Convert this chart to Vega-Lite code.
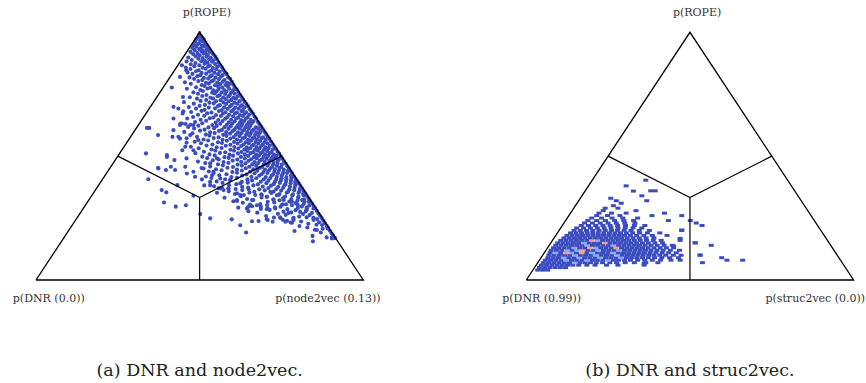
{
 "$schema": "https://vega.github.io/schema/vega-lite/v6.json",
 "padding": 0,
 "spacing": 0,
 "bounds": "flush",
 "background": "white",
 "config": {"view": {"stroke": null}},
 "resolve": {"scale": {"x": "independent", "y": "independent"}},
 "datasets": {
  "tri": [{"x":0,"y":0,"o":0},{"x":100,"y":0,"o":1},{"x":50,"y":100,"o":2},{"x":0,"y":0,"o":3}],
  "inner": [{"x":50,"y":33.33,"x2":50,"y2":0},{"x":50,"y":33.33,"x2":25,"y2":50},{"x":50,"y":33.33,"x2":75,"y2":50}],
  "labelsA": [{"x":3.9,"y":-7.7,"t":"p(DNR (0.0))"},{"x":52.2,"y":107.6,"t":"p(ROPE)"},{"x":89.2,"y":-7.7,"t":"p(node2vec (0.13))"}],
  "labelsB": [{"x":4.7,"y":-7.7,"t":"p(DNR (0.99))"},{"x":52.2,"y":107.6,"t":"p(ROPE)"},{"x":88.3,"y":-7.7,"t":"p(struc2vec (0.0))"}],
  "capA": [{"x":50,"y":-36.7,"t":"(a) DNR and node2vec."}],
  "capB": [{"x":50,"y":-36.7,"t":"(b) DNR and struc2vec."}],
  "apex": [{"x":50,"y":100}],
  "left": [
{"x":33.9,"y":61.4},{"x":34.6,"y":61.4},{"x":37.3,"y":58.5},{"x":33.6,"y":51.1},{"x":34.3,"y":40.7},{"x":38.4,"y":36.3},{"x":39.8,"y":35.4},{"x":39.1,"y":31.3},{"x":42.7,"y":29.6},{"x":45.8,"y":30.2},{"x":48.1,"y":34.0},{"x":50.2,"y":26.6},{"x":53.2,"y":24.9},{"x":59.8,"y":24.5},{"x":62.4,"y":22.1},{"x":64.2,"y":19.2},{"x":66.0,"y":23.7},{"x":70.5,"y":24.5},{"x":73.1,"y":28.9},{"x":74.6,"y":25.3},{"x":76.7,"y":23.9},{"x":78.7,"y":24.2},{"x":84.6,"y":15.6},{"x":85.8,"y":20.2},{"x":87.4,"y":22.2},{"x":89.1,"y":20.8},{"x":90.4,"y":17.2},{"x":91.3,"y":16.9},{"x":84.8,"y":24.9},{"x":82.6,"y":28.2},{"x":80.0,"y":30.2},{"x":77.7,"y":31.6},{"x":75.4,"y":30.5},{"x":72.6,"y":32.3},{"x":70.5,"y":28.6},{"x":64.9,"y":29.6},{"x":61.4,"y":31.9},{"x":58.8,"y":36.8},{"x":56.3,"y":37.0},{"x":53.2,"y":39.6},{"x":51.4,"y":38.2},{"x":43.2,"y":38.3},{"x":41.2,"y":45.7},{"x":37.3,"y":45.3},{"x":39.7,"y":44.4},{"x":44.9,"y":73.9},{"x":41.5,"y":77.7},{"x":42.0,"y":69.9},{"x":43.5,"y":69.2},{"x":42.0,"y":65.2},{"x":44.6,"y":63.2},{"x":41.7,"y":57.8},{"x":44.0,"y":57.1},{"x":45.6,"y":53.8},{"x":40.0,"y":49.7},{"x":44.6,"y":86.7},{"x":44.0,"y":82.0},{"x":45.9,"y":84.7},
{"x":45.0,"y":68.1},{"x":48.1,"y":62.6},{"x":44.0,"y":62.6},{"x":42.0,"y":60.5},{"x":45.7,"y":63.0},{"x":43.5,"y":57.8},{"x":47.1,"y":58.5},{"x":46.0,"y":55.4},{"x":49.6,"y":56.5},{"x":44.7,"y":52.4},{"x":48.1,"y":52.4},{"x":40.0,"y":50.4},{"x":42.3,"y":48.4},{"x":46.0,"y":49.1},{"x":37.4,"y":45.0},{"x":42.5,"y":44.4},{"x":45.6,"y":45.7},{"x":48.1,"y":43.7},{"x":51.2,"y":45.0},{"x":53.2,"y":47.1},{"x":55.3,"y":49.1},{"x":54.2,"y":43.7},
{"x":46.1,"y":43.0},{"x":48.6,"y":41.7},{"x":50.7,"y":40.6},{"x":53.2,"y":38.3},{"x":55.8,"y":37.0},{"x":57.3,"y":36.3},{"x":58.8,"y":37.0},{"x":61.4,"y":35.0},{"x":63.5,"y":34.3},{"x":65.0,"y":36.6},{"x":62.4,"y":39.0},{"x":59.4,"y":40.3},{"x":56.3,"y":41.0},{"x":53.8,"y":42.3},
{"x":70.8,"y":24.2},{"x":72.3,"y":23.5},{"x":74.6,"y":25.1},{"x":76.2,"y":23.5},{"x":78.2,"y":23.1},{"x":78.7,"y":25.1},{"x":77.1,"y":27.1},{"x":80.7,"y":27.5},{"x":82.7,"y":29.2},{"x":84.8,"y":25.1},{"x":89.1,"y":21.2},{"x":90.4,"y":16.8},{"x":75.2,"y":30.5},{"x":70.8,"y":28.9},{"x":68.7,"y":29.6},{"x":65.4,"y":30.5},{"x":64.4,"y":28.9},{"x":61.4,"y":32.3},{"x":62.4,"y":34.3},{"x":66.0,"y":32.3},{"x":67.5,"y":30.2},{"x":71.6,"y":35.6},{"x":70.5,"y":33.6},{"x":69.0,"y":34.3},{"x":74.1,"y":34.3},{"x":75.7,"y":32.3},{"x":78.2,"y":31.6},{"x":79.7,"y":30.9},{"x":81.3,"y":32.3},{"x":83.3,"y":31.6},{"x":84.8,"y":28.9},
{"x":49.8,"y":99},
{"x":49.5,"y":98},{"x":50.5,"y":98.4},{"x":50.9,"y":97.6},
{"x":49.0,"y":97.3},{"x":50.2,"y":96.8},{"x":51.3,"y":97.1},
{"x":48.6,"y":96.2},{"x":49.8,"y":95.6},{"x":51.0,"y":96.3},{"x":51.8,"y":95.8},
{"x":48.3,"y":94.8},{"x":49.5,"y":95.3},{"x":50.7,"y":94.6},{"x":51.6,"y":95.1},{"x":52.3,"y":94.7},
{"x":47.8,"y":93.7},{"x":49.0,"y":94.2},{"x":50.3,"y":93.5},{"x":51.4,"y":94.3},{"x":52.7,"y":93.8},
{"x":48.5,"y":92.8},{"x":49.9,"y":93.2},{"x":51.0,"y":92.6},{"x":52.2,"y":93.1},{"x":53.2,"y":92.7},
{"x":47.2,"y":92.1},{"x":49.3,"y":91.6},{"x":50.6,"y":92.3},{"x":51.8,"y":91.7},{"x":53.0,"y":92.2},{"x":53.7,"y":91.9},
{"x":48.0,"y":91.2},{"x":50.0,"y":90.7},{"x":51.2,"y":91.4},{"x":52.5,"y":90.8},{"x":54.2,"y":91.1},
{"x":46.5,"y":89.8},{"x":48.8,"y":90.3},{"x":50.9,"y":89.6},{"x":52.1,"y":90.2},{"x":53.4,"y":89.7},{"x":54.8,"y":90.1},
{"x":47.6,"y":88.8},{"x":49.6,"y":89.3},{"x":51.6,"y":88.6},{"x":52.9,"y":89.1},{"x":54.2,"y":88.7},{"x":55.2,"y":89.2},
{"x":46.0,"y":88.2},{"x":48.7,"y":87.6},{"x":50.5,"y":88.3},{"x":52.4,"y":87.7},{"x":53.8,"y":88.1},{"x":55.7,"y":87.8},
{"x":47.3,"y":87.1},{"x":49.9,"y":86.7},{"x":51.5,"y":87.3},{"x":53.1,"y":86.6},{"x":54.7,"y":87.2},{"x":56.2,"y":86.8},
{"x":45.8,"y":85.8},{"x":48.4,"y":86.3},{"x":50.9,"y":85.7},{"x":52.6,"y":86.2},{"x":54.0,"y":85.6},{"x":55.4,"y":86.1},{"x":56.8,"y":85.9},
{"x":47.2,"y":85.2},{"x":49.7,"y":84.7},{"x":51.8,"y":85.3},{"x":53.6,"y":84.6},{"x":55.1,"y":85.1},{"x":57.2,"y":84.8},
{"x":46.3,"y":83.8},{"x":48.9,"y":84.3},{"x":50.6,"y":83.6},{"x":52.9,"y":84.2},{"x":54.5,"y":83.7},{"x":56.1,"y":84.1},{"x":57.7,"y":83.8},
{"x":47.8,"y":83.2},{"x":50.2,"y":82.7},{"x":52.0,"y":83.3},{"x":53.7,"y":82.6},{"x":55.6,"y":83.1},{"x":57.0,"y":82.7},{"x":58.2,"y":83.2},
{"x":46.9,"y":81.8},{"x":49.3,"y":82.3},{"x":51.3,"y":81.6},{"x":53.2,"y":82.2},{"x":54.8,"y":81.7},{"x":56.5,"y":82.1},{"x":58.7,"y":81.8},
{"x":48.3,"y":81.2},{"x":50.8,"y":80.7},{"x":52.6,"y":81.3},{"x":54.2,"y":80.6},{"x":55.9,"y":81.1},{"x":57.6,"y":80.7},{"x":59.3,"y":81.2},
{"x":45.5,"y":79.8},{"x":49.6,"y":80.3},{"x":51.9,"y":79.6},{"x":53.6,"y":80.2},{"x":55.4,"y":79.7},{"x":57.1,"y":80.1},{"x":58.4,"y":79.6},{"x":59.8,"y":80.1},
{"x":47.3,"y":79.2},{"x":50.6,"y":78.7},{"x":52.8,"y":79.3},{"x":54.7,"y":78.6},{"x":56.3,"y":79.1},{"x":57.9,"y":78.7},{"x":59.2,"y":79.2},{"x":60.3,"y":78.8},
{"x":48.9,"y":77.8},{"x":51.5,"y":78.3},{"x":53.3,"y":77.6},{"x":55.6,"y":78.2},{"x":56.9,"y":77.7},{"x":58.6,"y":78.1},{"x":60.7,"y":77.8},
{"x":46.1,"y":77.2},{"x":50.2,"y":76.7},{"x":52.4,"y":77.3},{"x":54.2,"y":76.6},{"x":55.8,"y":77.1},{"x":57.5,"y":76.7},{"x":59.0,"y":77.2},{"x":60.2,"y":76.6},{"x":61.3,"y":77.0},
{"x":48.1,"y":75.8},{"x":51.0,"y":76.3},{"x":53.8,"y":75.6},{"x":55.2,"y":76.2},{"x":56.7,"y":75.7},{"x":58.2,"y":76.1},{"x":59.6,"y":75.6},{"x":61.8,"y":75.9},
{"x":49.5,"y":75.2},{"x":52.1,"y":74.7},{"x":54.6,"y":75.3},{"x":56.1,"y":74.6},{"x":57.8,"y":75.1},{"x":59.2,"y":74.7},{"x":60.7,"y":75.2},{"x":62.3,"y":74.8},
{"x":47.0,"y":73.8},{"x":50.8,"y":74.3},{"x":53.3,"y":73.6},{"x":55.5,"y":74.2},{"x":57.2,"y":73.7},{"x":58.8,"y":74.1},{"x":60.3,"y":73.6},{"x":61.6,"y":74.2},{"x":62.8,"y":73.9},
{"x":49.2,"y":73.2},{"x":52.0,"y":72.7},{"x":54.1,"y":73.3},{"x":56.4,"y":72.6},{"x":58.0,"y":73.1},{"x":59.7,"y":72.7},{"x":61.1,"y":73.2},{"x":63.3,"y":72.8},
{"x":45.2,"y":71.8},{"x":50.3,"y":72.3},{"x":53.0,"y":71.6},{"x":55.0,"y":72.2},{"x":57.3,"y":71.7},{"x":58.9,"y":72.1},{"x":60.6,"y":71.6},{"x":62.2,"y":72.2},{"x":63.8,"y":71.9},
{"x":48.2,"y":71.2},{"x":51.6,"y":70.7},{"x":54.3,"y":71.3},{"x":56.2,"y":70.6},{"x":58.1,"y":71.1},{"x":59.8,"y":70.7},{"x":61.5,"y":71.2},{"x":62.9,"y":70.6},{"x":64.3,"y":71.1},
{"x":46.7,"y":69.8},{"x":50.0,"y":70.3},{"x":52.8,"y":69.6},{"x":55.6,"y":70.2},{"x":57.5,"y":69.7},{"x":59.3,"y":70.1},{"x":60.9,"y":69.6},{"x":62.5,"y":70.2},{"x":63.7,"y":69.7},{"x":64.8,"y":70.1},
{"x":48.9,"y":69.2},{"x":51.5,"y":68.7},{"x":54.7,"y":69.3},{"x":56.8,"y":68.6},{"x":58.6,"y":69.1},{"x":60.3,"y":68.7},{"x":61.9,"y":69.2},{"x":63.2,"y":68.6},{"x":65.3,"y":68.9},
{"x":47.4,"y":67.8},{"x":50.6,"y":68.3},{"x":53.6,"y":67.6},{"x":55.9,"y":68.2},{"x":57.9,"y":67.7},{"x":59.7,"y":68.1},{"x":61.4,"y":67.6},{"x":62.8,"y":68.2},{"x":64.2,"y":67.7},{"x":65.8,"y":68.0},
{"x":44.8,"y":67.2},{"x":49.5,"y":66.7},{"x":52.3,"y":67.3},{"x":55.0,"y":66.6},{"x":57.1,"y":67.1},{"x":59.0,"y":66.7},{"x":60.8,"y":67.2},{"x":62.3,"y":66.6},{"x":63.7,"y":67.1},{"x":65.1,"y":66.7},{"x":66.3,"y":67.1},
{"x":48.0,"y":65.8},{"x":51.4,"y":66.3},{"x":54.2,"y":65.6},{"x":56.5,"y":66.2},{"x":58.4,"y":65.7},{"x":60.2,"y":66.1},{"x":61.8,"y":65.6},{"x":63.2,"y":66.2},{"x":64.6,"y":65.7},{"x":66.8,"y":66.0},
{"x":46.2,"y":65.2},{"x":50.3,"y":64.7},{"x":53.1,"y":65.3},{"x":55.7,"y":64.6},{"x":57.8,"y":65.1},{"x":59.6,"y":64.7},{"x":61.2,"y":65.2},{"x":62.7,"y":64.6},{"x":64.1,"y":65.1},{"x":65.6,"y":64.7},{"x":67.3,"y":65.1},
{"x":48.6,"y":63.8},{"x":52.0,"y":64.3},{"x":54.9,"y":63.6},{"x":57.0,"y":64.2},{"x":58.9,"y":63.7},{"x":60.7,"y":64.1},{"x":62.3,"y":63.6},{"x":63.6,"y":64.2},{"x":65.0,"y":63.7},{"x":66.4,"y":64.1},{"x":67.8,"y":63.8},
{"x":44.1,"y":63.2},{"x":47.2,"y":62.7},{"x":50.8,"y":63.3},{"x":53.9,"y":62.6},{"x":56.3,"y":63.1},{"x":58.3,"y":62.7},{"x":60.0,"y":63.2},{"x":61.7,"y":62.6},{"x":63.1,"y":63.1},{"x":64.5,"y":62.7},{"x":65.9,"y":63.2},{"x":68.3,"y":62.9},
{"x":46.5,"y":61.8},{"x":49.6,"y":62.3},{"x":52.7,"y":61.6},{"x":55.2,"y":62.2},{"x":57.6,"y":61.7},{"x":59.5,"y":62.1},{"x":61.2,"y":61.6},{"x":62.7,"y":62.2},{"x":64.0,"y":61.7},{"x":65.4,"y":62.1},{"x":67.2,"y":61.6},{"x":68.8,"y":61.9},
{"x":48.3,"y":61.2},{"x":51.5,"y":60.7},{"x":54.4,"y":61.3},{"x":56.8,"y":60.6},{"x":58.8,"y":61.1},{"x":60.6,"y":60.7},{"x":62.2,"y":61.2},{"x":63.6,"y":60.6},{"x":65.0,"y":61.1},{"x":66.5,"y":60.7},{"x":67.9,"y":61.2},{"x":69.3,"y":60.9},
{"x":45.3,"y":59.8},{"x":50.1,"y":60.3},{"x":53.2,"y":59.6},{"x":55.9,"y":60.2},{"x":58.1,"y":59.7},{"x":60.0,"y":60.1},{"x":61.7,"y":59.6},{"x":63.1,"y":60.2},{"x":64.6,"y":59.7},{"x":66.0,"y":60.1},{"x":67.4,"y":59.6},{"x":68.6,"y":60.2},{"x":69.8,"y":59.9},
{"x":47.8,"y":59.2},{"x":51.9,"y":58.7},{"x":54.6,"y":59.3},{"x":57.2,"y":58.6},{"x":59.3,"y":59.1},{"x":61.1,"y":58.7},{"x":62.7,"y":59.2},{"x":64.2,"y":58.6},{"x":65.6,"y":59.1},{"x":67.0,"y":58.7},{"x":68.3,"y":59.2},{"x":70.3,"y":58.9},
{"x":49.2,"y":57.8},{"x":53.0,"y":58.3},{"x":55.8,"y":57.6},{"x":58.2,"y":58.2},{"x":60.4,"y":57.7},{"x":62.2,"y":58.1},{"x":63.8,"y":57.6},{"x":65.3,"y":58.2},{"x":66.7,"y":57.7},{"x":68.0,"y":58.1},{"x":69.4,"y":57.6},{"x":70.8,"y":57.9},
{"x":46.0,"y":57.2},{"x":51.2,"y":56.7},{"x":54.3,"y":57.3},{"x":57.0,"y":56.6},{"x":59.4,"y":57.1},{"x":61.4,"y":56.7},{"x":63.2,"y":57.2},{"x":64.8,"y":56.6},{"x":66.2,"y":57.1},{"x":67.5,"y":56.7},{"x":68.9,"y":57.2},{"x":70.2,"y":56.6},{"x":71.3,"y":57.0},
{"x":48.5,"y":55.8},{"x":52.6,"y":56.3},{"x":55.6,"y":55.6},{"x":58.3,"y":56.2},{"x":60.5,"y":55.7},{"x":62.5,"y":56.1},{"x":64.1,"y":55.6},{"x":65.7,"y":56.2},{"x":67.1,"y":55.7},{"x":68.5,"y":56.1},{"x":69.8,"y":55.6},{"x":71.8,"y":55.9},
{"x":50.4,"y":55.2},{"x":53.9,"y":54.7},{"x":56.8,"y":55.3},{"x":59.4,"y":54.6},{"x":61.6,"y":55.1},{"x":63.4,"y":54.7},{"x":65.0,"y":55.2},{"x":66.5,"y":54.6},{"x":67.9,"y":55.1},{"x":69.3,"y":54.7},{"x":70.7,"y":55.2},{"x":72.3,"y":54.9},
{"x":47.3,"y":53.8},{"x":52.1,"y":54.3},{"x":55.2,"y":53.6},{"x":58.0,"y":54.2},{"x":60.6,"y":53.7},{"x":62.7,"y":54.1},{"x":64.4,"y":53.6},{"x":66.0,"y":54.2},{"x":67.4,"y":53.7},{"x":68.8,"y":54.1},{"x":70.1,"y":53.6},{"x":71.4,"y":54.2},{"x":72.8,"y":53.9},
{"x":49.7,"y":53.2},{"x":53.6,"y":52.7},{"x":56.7,"y":53.3},{"x":59.4,"y":52.6},{"x":61.8,"y":53.1},{"x":63.7,"y":52.7},{"x":65.4,"y":53.2},{"x":66.9,"y":52.6},{"x":68.3,"y":53.1},{"x":69.7,"y":52.7},{"x":71.0,"y":53.2},{"x":72.3,"y":52.6},{"x":73.3,"y":53.0},
{"x":51.3,"y":51.8},{"x":54.8,"y":52.3},{"x":57.8,"y":51.6},{"x":60.5,"y":52.2},{"x":62.8,"y":51.7},{"x":64.6,"y":52.1},{"x":66.3,"y":51.6},{"x":67.8,"y":52.2},{"x":69.2,"y":51.7},{"x":70.6,"y":52.1},{"x":71.9,"y":51.6},{"x":73.8,"y":51.9},
{"x":48.7,"y":51.2},{"x":53.0,"y":50.7},{"x":56.2,"y":51.3},{"x":59.1,"y":50.6},{"x":61.7,"y":51.1},{"x":63.8,"y":50.7},{"x":65.6,"y":51.2},{"x":67.2,"y":50.6},{"x":68.6,"y":51.1},{"x":70.0,"y":50.7},{"x":71.4,"y":51.2},{"x":72.7,"y":50.6},{"x":74.3,"y":51.0},
{"x":50.8,"y":49.8},{"x":54.6,"y":50.3},{"x":57.6,"y":49.6},{"x":60.2,"y":50.2},{"x":62.6,"y":49.7},{"x":64.8,"y":50.1},{"x":66.6,"y":49.6},{"x":68.1,"y":50.2},{"x":69.5,"y":49.7},{"x":70.9,"y":50.1},{"x":72.2,"y":49.6},{"x":73.5,"y":50.2},{"x":74.8,"y":49.9},
{"x":52.3,"y":49.2},{"x":55.8,"y":48.7},{"x":58.9,"y":49.3},{"x":61.5,"y":48.6},{"x":63.8,"y":49.1},{"x":65.7,"y":48.7},{"x":67.4,"y":49.2},{"x":69.0,"y":48.6},{"x":70.4,"y":49.1},{"x":71.8,"y":48.7},{"x":73.1,"y":49.2},{"x":74.2,"y":48.6},{"x":75.3,"y":49.0},
{"x":49.5,"y":47.8},{"x":54.0,"y":48.3},{"x":57.3,"y":47.6},{"x":60.1,"y":48.2},{"x":62.7,"y":47.7},{"x":64.9,"y":48.1},{"x":66.8,"y":47.6},{"x":68.4,"y":48.2},{"x":69.9,"y":47.7},{"x":71.3,"y":48.1},{"x":72.6,"y":47.6},{"x":73.9,"y":48.2},{"x":75.8,"y":47.9},
{"x":51.7,"y":47.2},{"x":55.6,"y":46.7},{"x":58.8,"y":47.3},{"x":61.6,"y":46.6},{"x":64.0,"y":47.1},{"x":66.1,"y":46.7},{"x":67.9,"y":47.2},{"x":69.6,"y":46.6},{"x":71.1,"y":47.1},{"x":72.5,"y":46.7},{"x":73.8,"y":47.2},{"x":75.1,"y":46.6},{"x":76.3,"y":47.0},
{"x":53.2,"y":45.8},{"x":57.1,"y":46.3},{"x":60.2,"y":45.6},{"x":62.9,"y":46.2},{"x":65.2,"y":45.7},{"x":67.3,"y":46.1},{"x":69.1,"y":45.6},{"x":70.7,"y":46.2},{"x":72.2,"y":45.7},{"x":73.6,"y":46.1},{"x":74.9,"y":45.6},{"x":76.8,"y":45.9},
{"x":50.6,"y":45.2},{"x":55.0,"y":44.7},{"x":58.5,"y":45.3},{"x":61.4,"y":44.6},{"x":64.1,"y":45.1},{"x":66.4,"y":44.7},{"x":68.3,"y":45.2},{"x":70.0,"y":44.6},{"x":71.6,"y":45.1},{"x":73.0,"y":44.7},{"x":74.4,"y":45.2},{"x":75.7,"y":44.6},{"x":77.3,"y":45.0},
{"x":52.8,"y":43.8},{"x":56.7,"y":44.3},{"x":60.0,"y":43.6},{"x":62.9,"y":44.2},{"x":65.4,"y":43.7},{"x":67.6,"y":44.1},{"x":69.5,"y":43.6},{"x":71.2,"y":44.2},{"x":72.8,"y":43.7},{"x":74.2,"y":44.1},{"x":75.6,"y":43.6},{"x":77.0,"y":44.2},{"x":77.8,"y":43.9},
{"x":54.3,"y":43.2},{"x":58.2,"y":42.7},{"x":61.4,"y":43.3},{"x":64.3,"y":42.6},{"x":66.8,"y":43.1},{"x":68.9,"y":42.7},{"x":70.7,"y":43.2},{"x":72.4,"y":42.6},{"x":73.9,"y":43.1},{"x":75.3,"y":42.7},{"x":76.7,"y":43.2},{"x":78.3,"y":42.9},
{"x":51.9,"y":41.8},{"x":56.0,"y":42.3},{"x":59.7,"y":41.6},{"x":63.0,"y":42.2},{"x":65.8,"y":41.7},{"x":68.2,"y":42.1},{"x":70.2,"y":41.6},{"x":72.0,"y":42.2},{"x":73.6,"y":41.7},{"x":75.1,"y":42.1},{"x":76.5,"y":41.6},{"x":77.9,"y":42.2},{"x":78.8,"y":41.9},
{"x":53.6,"y":41.2},{"x":57.8,"y":40.7},{"x":61.4,"y":41.3},{"x":64.6,"y":40.6},{"x":67.3,"y":41.1},{"x":69.6,"y":40.7},{"x":71.6,"y":41.2},{"x":73.4,"y":40.6},{"x":75.0,"y":41.1},{"x":76.5,"y":40.7},{"x":78.0,"y":41.2},{"x":79.3,"y":40.9},
{"x":55.2,"y":39.8},{"x":59.3,"y":40.3},{"x":62.9,"y":39.6},{"x":66.0,"y":40.2},{"x":68.7,"y":39.7},{"x":71.0,"y":40.1},{"x":73.0,"y":39.6},{"x":74.8,"y":40.2},{"x":76.4,"y":39.7},{"x":77.9,"y":40.1},{"x":79.2,"y":39.6},{"x":79.8,"y":39.9},
{"x":57.0,"y":39.2},{"x":61.2,"y":38.7},{"x":64.7,"y":39.3},{"x":67.8,"y":38.6},{"x":70.4,"y":39.1},{"x":72.6,"y":38.7},{"x":74.5,"y":39.2},{"x":76.2,"y":38.6},{"x":77.8,"y":39.1},{"x":79.3,"y":38.7},{"x":80.3,"y":39.0},
{"x":54.4,"y":37.8},{"x":59.0,"y":38.3},{"x":63.0,"y":37.6},{"x":66.4,"y":38.2},{"x":69.3,"y":37.7},{"x":71.8,"y":38.1},{"x":74.0,"y":37.6},{"x":75.9,"y":38.2},{"x":77.6,"y":37.7},{"x":79.2,"y":38.1},{"x":80.8,"y":37.9},
{"x":56.8,"y":37.2},{"x":61.0,"y":36.7},{"x":64.8,"y":37.3},{"x":68.2,"y":36.6},{"x":71.0,"y":37.1},{"x":73.4,"y":36.7},{"x":75.5,"y":37.2},{"x":77.4,"y":36.6},{"x":79.0,"y":37.1},{"x":80.6,"y":36.7},{"x":81.3,"y":37.0},
{"x":58.9,"y":35.8},{"x":63.0,"y":36.3},{"x":66.7,"y":35.6},{"x":69.9,"y":36.2},{"x":72.6,"y":35.7},{"x":74.9,"y":36.1},{"x":77.0,"y":35.6},{"x":78.9,"y":36.2},{"x":80.5,"y":35.7},{"x":81.8,"y":35.9},
{"x":55.3,"y":35.2},{"x":60.8,"y":34.7},{"x":65.2,"y":35.3},{"x":68.8,"y":34.6},{"x":71.9,"y":35.1},{"x":74.4,"y":34.7},{"x":76.6,"y":35.2},{"x":78.5,"y":34.6},{"x":80.2,"y":35.1},{"x":81.6,"y":34.7},{"x":82.3,"y":35.0},
{"x":62.6,"y":33.8},{"x":67.0,"y":34.3},{"x":70.6,"y":33.6},{"x":73.6,"y":34.2},{"x":76.1,"y":33.7},{"x":78.3,"y":34.1},{"x":80.2,"y":33.6},{"x":81.8,"y":34.2},{"x":82.8,"y":33.9},
{"x":57.6,"y":33.2},{"x":64.5,"y":32.7},{"x":68.9,"y":33.3},{"x":72.5,"y":32.6},{"x":75.5,"y":33.1},{"x":78.0,"y":32.7},{"x":80.1,"y":33.2},{"x":81.9,"y":32.6},{"x":83.3,"y":33.0},
{"x":60.3,"y":31.8},{"x":66.4,"y":32.3},{"x":70.8,"y":31.6},{"x":74.4,"y":32.2},{"x":77.4,"y":31.7},{"x":79.9,"y":32.1},{"x":82.0,"y":31.6},{"x":83.8,"y":31.9},
{"x":63.2,"y":31.2},{"x":68.5,"y":30.7},{"x":72.8,"y":31.3},{"x":76.4,"y":30.6},{"x":79.3,"y":31.1},{"x":81.8,"y":30.7},{"x":84.3,"y":31.0},
{"x":66.0,"y":29.8},{"x":70.6,"y":30.3},{"x":74.7,"y":29.6},{"x":78.2,"y":30.2},{"x":81.2,"y":29.7},{"x":83.5,"y":30.1},{"x":84.8,"y":29.9},
{"x":61.8,"y":29.2},{"x":68.7,"y":28.7},{"x":73.0,"y":29.3},{"x":76.8,"y":28.6},{"x":80.0,"y":29.1},{"x":82.8,"y":28.7},{"x":85.3,"y":29.0},
{"x":64.9,"y":27.8},{"x":71.4,"y":28.3},{"x":75.6,"y":27.6},{"x":79.3,"y":28.2},{"x":82.4,"y":27.7},{"x":85.8,"y":27.9},
{"x":67.6,"y":27.2},{"x":73.9,"y":26.7},{"x":78.0,"y":27.3},{"x":81.6,"y":26.6},{"x":84.3,"y":27.1},{"x":86.3,"y":26.8},
{"x":70.3,"y":25.8},{"x":76.3,"y":26.3},{"x":80.4,"y":25.6},{"x":83.6,"y":26.2},{"x":86.8,"y":25.9},
{"x":72.7,"y":25.2},{"x":78.6,"y":24.7},{"x":82.7,"y":25.3},{"x":85.9,"y":24.6},{"x":87.3,"y":25.0},
{"x":68.0,"y":23.8},{"x":75.4,"y":24.3},{"x":81.0,"y":23.6},{"x":84.8,"y":24.2},{"x":87.8,"y":23.9},
{"x":77.8,"y":23.2},{"x":83.2,"y":22.7},{"x":86.5,"y":23.3},{"x":88.3,"y":22.9},
{"x":80.5,"y":21.8},{"x":85.7,"y":22.3},{"x":88.8,"y":21.9},
{"x":82.9,"y":21.2},{"x":87.6,"y":20.7},{"x":89.3,"y":21.0},
{"x":79.0,"y":19.8},{"x":85.2,"y":20.3},{"x":89.8,"y":19.9},
{"x":87.0,"y":19.2},{"x":90.3,"y":18.9},
{"x":84.5,"y":17.8},{"x":90.8,"y":17.9},
{"x":88.8,"y":17.2},{"x":91.3,"y":16.9}
  ],
  "right": [
{"x":3.5,"y":4,"n":1},{"x":5.0,"y":4,"n":1},{"x":6.5,"y":4,"n":1},
{"x":4.0,"y":5,"n":1},{"x":5.6,"y":5,"n":1},{"x":7.2,"y":5,"n":1},{"x":8.8,"y":5,"n":1},{"x":10.4,"y":5,"n":1},{"x":12.0,"y":5,"n":1},
{"x":4.6,"y":6,"n":1},{"x":6.2,"y":6,"n":1},{"x":7.8,"y":6,"n":1},{"x":9.4,"y":6,"n":1},{"x":11.0,"y":6,"n":1},{"x":12.6,"y":6,"n":1},{"x":14.2,"y":6,"n":1},{"x":16.0,"y":6,"n":1},{"x":18.5,"y":6,"n":1},{"x":21.0,"y":6,"n":1},{"x":24.5,"y":6,"n":1},{"x":28.0,"y":6,"n":1},{"x":36.0,"y":6,"n":1},
{"x":5.2,"y":7,"n":1},{"x":6.8,"y":7,"n":1},{"x":8.4,"y":7,"n":1},{"x":10.0,"y":7,"n":1},{"x":11.6,"y":7,"n":1},{"x":13.2,"y":7,"n":1},{"x":14.8,"y":7,"n":2},{"x":16.4,"y":7,"n":1},{"x":18.0,"y":7,"n":1},{"x":19.6,"y":7,"n":1},{"x":21.4,"y":7,"n":1},{"x":23.3,"y":7,"n":1},{"x":25.5,"y":7,"n":1},{"x":27.6,"y":7,"n":1},{"x":30.2,"y":7,"n":1},{"x":33.0,"y":7,"n":1},{"x":36.5,"y":7,"n":1},{"x":40.2,"y":7,"n":1},{"x":53.8,"y":7,"n":1},
{"x":5.8,"y":8,"n":1},{"x":7.4,"y":8,"n":1},{"x":9.0,"y":8,"n":1},{"x":10.6,"y":8,"n":1},{"x":12.2,"y":8,"n":2},{"x":13.8,"y":8,"n":1},{"x":15.4,"y":8,"n":1},{"x":17.0,"y":8,"n":1},{"x":18.6,"y":8,"n":2},{"x":20.2,"y":8,"n":1},{"x":21.8,"y":8,"n":1},{"x":23.4,"y":8,"n":1},{"x":25.0,"y":8,"n":2},{"x":26.6,"y":8,"n":1},{"x":28.2,"y":8,"n":1},{"x":30.0,"y":8,"n":1},{"x":31.8,"y":8,"n":1},{"x":34.0,"y":8,"n":1},{"x":36.2,"y":8,"n":1},{"x":38.5,"y":8,"n":1},{"x":41.0,"y":8,"n":1},{"x":44.2,"y":8,"n":1},{"x":47.0,"y":8,"n":1},{"x":61.3,"y":8,"n":1},{"x":66.1,"y":8,"n":1},
{"x":6.6,"y":9,"n":1},{"x":8.2,"y":9,"n":1},{"x":9.8,"y":9,"n":1},{"x":11.4,"y":9,"n":2},{"x":13.0,"y":9,"n":1},{"x":14.6,"y":9,"n":1},{"x":16.2,"y":9,"n":2},{"x":17.8,"y":9,"n":1},{"x":19.4,"y":9,"n":1},{"x":21.0,"y":9,"n":1},{"x":22.6,"y":9,"n":2},{"x":24.2,"y":9,"n":1},{"x":25.8,"y":9,"n":1},{"x":27.4,"y":9,"n":1},{"x":29.0,"y":9,"n":2},{"x":30.6,"y":9,"n":1},{"x":32.2,"y":9,"n":1},{"x":33.8,"y":9,"n":1},{"x":35.5,"y":9,"n":1},{"x":37.3,"y":9,"n":1},{"x":39.2,"y":9,"n":1},{"x":41.4,"y":9,"n":1},{"x":43.8,"y":9,"n":1},{"x":46.5,"y":9,"n":1},{"x":59.7,"y":9,"n":1},
{"x":6.9,"y":10,"n":1},{"x":8.5,"y":10,"n":1},{"x":10.1,"y":10,"n":1},{"x":11.7,"y":10,"n":1},{"x":13.3,"y":10,"n":1},{"x":14.9,"y":10,"n":2},{"x":16.5,"y":10,"n":1},{"x":18.1,"y":10,"n":1},{"x":19.7,"y":10,"n":1},{"x":21.3,"y":10,"n":2},{"x":22.9,"y":10,"n":1},{"x":24.5,"y":10,"n":1},{"x":26.1,"y":10,"n":1},{"x":27.7,"y":10,"n":2},{"x":29.3,"y":10,"n":1},{"x":30.9,"y":10,"n":1},{"x":32.5,"y":10,"n":1},{"x":34.1,"y":10,"n":1},{"x":35.7,"y":10,"n":1},{"x":37.4,"y":10,"n":1},{"x":39.0,"y":10,"n":1},{"x":40.8,"y":10,"n":1},{"x":42.6,"y":10,"n":1},{"x":44.9,"y":10,"n":1},{"x":47.3,"y":10,"n":1},{"x":53.1,"y":10,"n":1},
{"x":7.3,"y":11,"n":1},{"x":8.9,"y":11,"n":2},{"x":10.5,"y":11,"n":1},{"x":12.1,"y":11,"n":3},{"x":13.7,"y":11,"n":2},{"x":15.3,"y":11,"n":1},{"x":16.9,"y":11,"n":3},{"x":18.5,"y":11,"n":1},{"x":20.1,"y":11,"n":2},{"x":21.7,"y":11,"n":1},{"x":23.3,"y":11,"n":1},{"x":24.9,"y":11,"n":1},{"x":26.5,"y":11,"n":2},{"x":28.1,"y":11,"n":1},{"x":29.7,"y":11,"n":1},{"x":31.3,"y":11,"n":1},{"x":32.9,"y":11,"n":1},{"x":34.5,"y":11,"n":1},{"x":36.1,"y":11,"n":1},{"x":37.8,"y":11,"n":1},{"x":39.6,"y":11,"n":1},{"x":41.5,"y":11,"n":1},{"x":43.5,"y":11,"n":1},{"x":45.8,"y":11,"n":1},
{"x":7.6,"y":12,"n":1},{"x":9.2,"y":12,"n":1},{"x":10.8,"y":12,"n":1},{"x":12.4,"y":12,"n":2},{"x":14.0,"y":12,"n":1},{"x":15.6,"y":12,"n":2},{"x":17.2,"y":12,"n":3},{"x":18.8,"y":12,"n":1},{"x":20.4,"y":12,"n":1},{"x":22.0,"y":12,"n":2},{"x":23.6,"y":12,"n":1},{"x":25.2,"y":12,"n":1},{"x":26.8,"y":12,"n":1},{"x":28.4,"y":12,"n":2},{"x":30.0,"y":12,"n":1},{"x":31.6,"y":12,"n":1},{"x":33.2,"y":12,"n":1},{"x":34.8,"y":12,"n":1},{"x":36.4,"y":12,"n":1},{"x":38.1,"y":12,"n":1},{"x":39.9,"y":12,"n":1},{"x":41.8,"y":12,"n":1},{"x":44.0,"y":12,"n":1},{"x":46.8,"y":12,"n":1},
{"x":8.3,"y":13,"n":1},{"x":9.9,"y":13,"n":1},{"x":11.5,"y":13,"n":1},{"x":13.1,"y":13,"n":1},{"x":14.7,"y":13,"n":2},{"x":16.3,"y":13,"n":1},{"x":17.9,"y":13,"n":1},{"x":19.5,"y":13,"n":3},{"x":21.1,"y":13,"n":2},{"x":22.7,"y":13,"n":1},{"x":24.3,"y":13,"n":1},{"x":25.9,"y":13,"n":1},{"x":27.5,"y":13,"n":3},{"x":29.1,"y":13,"n":1},{"x":30.7,"y":13,"n":1},{"x":32.3,"y":13,"n":1},{"x":33.9,"y":13,"n":1},{"x":35.5,"y":13,"n":1},{"x":37.2,"y":13,"n":1},{"x":39.0,"y":13,"n":1},{"x":40.9,"y":13,"n":1},{"x":42.8,"y":13,"n":1},{"x":45.0,"y":13,"n":1},
{"x":9.0,"y":14,"n":1},{"x":10.6,"y":14,"n":1},{"x":12.2,"y":14,"n":1},{"x":13.8,"y":14,"n":1},{"x":15.4,"y":14,"n":1},{"x":17.0,"y":14,"n":1},{"x":18.6,"y":14,"n":2},{"x":20.2,"y":14,"n":1},{"x":21.8,"y":14,"n":1},{"x":23.4,"y":14,"n":1},{"x":25.0,"y":14,"n":1},{"x":26.6,"y":14,"n":2},{"x":28.2,"y":14,"n":1},{"x":29.8,"y":14,"n":1},{"x":31.4,"y":14,"n":1},{"x":33.0,"y":14,"n":1},{"x":34.6,"y":14,"n":1},{"x":36.3,"y":14,"n":1},{"x":38.1,"y":14,"n":1},{"x":40.0,"y":14,"n":1},{"x":42.1,"y":14,"n":1},{"x":44.6,"y":14,"n":1},{"x":56.5,"y":14,"n":1},
{"x":9.6,"y":15,"n":1},{"x":11.2,"y":15,"n":1},{"x":12.8,"y":15,"n":1},{"x":14.4,"y":15,"n":1},{"x":16.0,"y":15,"n":1},{"x":17.6,"y":15,"n":2},{"x":19.2,"y":15,"n":1},{"x":20.8,"y":15,"n":1},{"x":22.4,"y":15,"n":1},{"x":24.0,"y":15,"n":3},{"x":25.6,"y":15,"n":1},{"x":27.2,"y":15,"n":1},{"x":28.8,"y":15,"n":1},{"x":30.4,"y":15,"n":1},{"x":32.0,"y":15,"n":1},{"x":33.7,"y":15,"n":1},{"x":35.5,"y":15,"n":1},{"x":37.3,"y":15,"n":1},{"x":39.3,"y":15,"n":1},{"x":41.6,"y":15,"n":1},{"x":51.6,"y":15,"n":1},
{"x":10.5,"y":16,"n":1},{"x":12.1,"y":16,"n":1},{"x":13.7,"y":16,"n":1},{"x":15.3,"y":16,"n":1},{"x":16.9,"y":16,"n":1},{"x":18.5,"y":16,"n":1},{"x":20.1,"y":16,"n":3},{"x":21.7,"y":16,"n":2},{"x":23.3,"y":16,"n":1},{"x":24.9,"y":16,"n":1},{"x":26.5,"y":16,"n":1},{"x":28.1,"y":16,"n":1},{"x":29.7,"y":16,"n":1},{"x":31.3,"y":16,"n":1},{"x":33.0,"y":16,"n":1},{"x":34.8,"y":16,"n":1},{"x":36.7,"y":16,"n":1},{"x":38.8,"y":16,"n":1},{"x":41.2,"y":16,"n":1},{"x":47.0,"y":16,"n":1},
{"x":11.5,"y":17,"n":1},{"x":13.1,"y":17,"n":1},{"x":14.7,"y":17,"n":1},{"x":16.3,"y":17,"n":1},{"x":17.9,"y":17,"n":1},{"x":19.5,"y":17,"n":1},{"x":21.1,"y":17,"n":1},{"x":22.7,"y":17,"n":1},{"x":24.3,"y":17,"n":1},{"x":25.9,"y":17,"n":1},{"x":27.5,"y":17,"n":1},{"x":29.1,"y":17,"n":1},{"x":30.8,"y":17,"n":1},{"x":32.6,"y":17,"n":1},{"x":34.5,"y":17,"n":1},{"x":36.6,"y":17,"n":1},{"x":39.0,"y":17,"n":1},
{"x":12.4,"y":18,"n":1},{"x":14.0,"y":18,"n":1},{"x":15.6,"y":18,"n":1},{"x":17.2,"y":18,"n":1},{"x":18.8,"y":18,"n":1},{"x":20.4,"y":18,"n":1},{"x":22.0,"y":18,"n":1},{"x":23.6,"y":18,"n":1},{"x":25.2,"y":18,"n":1},{"x":26.8,"y":18,"n":1},{"x":28.4,"y":18,"n":1},{"x":30.0,"y":18,"n":1},{"x":31.8,"y":18,"n":1},{"x":33.7,"y":18,"n":1},{"x":35.9,"y":18,"n":1},{"x":38.5,"y":18,"n":1},{"x":43.0,"y":18,"n":1},
{"x":13.5,"y":19,"n":1},{"x":15.2,"y":19,"n":1},{"x":16.9,"y":19,"n":1},{"x":18.6,"y":19,"n":1},{"x":20.3,"y":19,"n":1},{"x":22.0,"y":19,"n":1},{"x":23.7,"y":19,"n":1},{"x":25.4,"y":19,"n":1},{"x":27.1,"y":19,"n":1},{"x":28.8,"y":19,"n":1},{"x":30.6,"y":19,"n":1},{"x":32.5,"y":19,"n":1},{"x":34.6,"y":19,"n":1},{"x":37.0,"y":19,"n":1},{"x":40.8,"y":19,"n":1},
{"x":14.6,"y":20,"n":1},{"x":16.5,"y":20,"n":1},{"x":18.4,"y":20,"n":1},{"x":20.3,"y":20,"n":1},{"x":22.2,"y":20,"n":1},{"x":24.1,"y":20,"n":1},{"x":26.0,"y":20,"n":1},{"x":27.9,"y":20,"n":1},{"x":29.9,"y":20,"n":1},{"x":32.0,"y":20,"n":1},{"x":34.5,"y":20,"n":1},{"x":37.6,"y":20,"n":1},{"x":47.5,"y":20,"n":1},
{"x":15.4,"y":21,"n":1},{"x":17.5,"y":21,"n":1},{"x":19.6,"y":21,"n":1},{"x":21.7,"y":21,"n":1},{"x":23.8,"y":21,"n":1},{"x":25.9,"y":21,"n":1},{"x":28.0,"y":21,"n":1},{"x":30.2,"y":21,"n":1},{"x":32.6,"y":21,"n":1},{"x":35.3,"y":21,"n":1},
{"x":16.8,"y":22,"n":1},{"x":19.0,"y":22,"n":1},{"x":21.2,"y":22,"n":1},{"x":23.4,"y":22,"n":1},{"x":25.6,"y":22,"n":1},{"x":27.9,"y":22,"n":1},{"x":30.3,"y":22,"n":1},{"x":33.0,"y":22,"n":1},{"x":36.2,"y":22,"n":1},{"x":53.7,"y":22,"n":1},
{"x":17.8,"y":23,"n":1},{"x":20.2,"y":23,"n":1},{"x":22.6,"y":23,"n":1},{"x":25.0,"y":23,"n":1},{"x":27.5,"y":23,"n":1},{"x":30.1,"y":23,"n":1},{"x":33.2,"y":23,"n":1},{"x":51.9,"y":23,"n":1},
{"x":18.8,"y":24,"n":1},{"x":21.5,"y":24,"n":1},{"x":24.2,"y":24,"n":1},{"x":27.0,"y":24,"n":1},{"x":29.8,"y":24,"n":1},{"x":32.8,"y":24,"n":1},{"x":43.4,"y":24,"n":1},{"x":50.1,"y":24,"n":1},
{"x":20.0,"y":25,"n":1},{"x":23.0,"y":25,"n":1},{"x":26.2,"y":25,"n":1},{"x":29.5,"y":25,"n":1},{"x":34.0,"y":25,"n":1},
{"x":21.5,"y":26,"n":1},{"x":24.8,"y":26,"n":1},{"x":28.6,"y":26,"n":1},{"x":38.4,"y":26,"n":1},{"x":47.5,"y":26,"n":1},
{"x":22.2,"y":27,"n":1},{"x":26.0,"y":27,"n":1},{"x":30.5,"y":27,"n":1},{"x":42.2,"y":27,"n":1},
{"x":23.5,"y":28,"n":1},{"x":33.5,"y":28,"n":1},
{"x":24.1,"y":29,"n":1},{"x":28.0,"y":29,"n":1},
{"x":26.6,"y":30,"n":1},{"x":29.0,"y":31,"n":1},{"x":36.8,"y":32,"n":1},{"x":27.5,"y":32,"n":1},{"x":25.8,"y":33,"n":1},{"x":35.3,"y":34,"n":1},{"x":32.7,"y":35.9,"n":1},{"x":38.0,"y":36,"n":1},{"x":39.4,"y":36,"n":1},{"x":30.5,"y":38,"n":1},{"x":36.5,"y":40.3,"n":1},
{"x":47.5,"y":20.2,"n":1},{"x":47.0,"y":16.8,"n":1},{"x":45.0,"y":13.7,"n":1},{"x":36.0,"y":6.7,"n":1},{"x":53.1,"y":10.1,"n":1},{"x":51.6,"y":15.0,"n":1}
  ]
 },
 "hconcat": [
  {
   "width": 433, "height": 383,
   "encoding": {
    "x": {"field": "x", "type": "quantitative", "scale": {"domain": [-11.0, 121.3], "nice": false, "zero": false}, "axis": null},
    "y": {"field": "y", "type": "quantitative", "scale": {"domain": [-41.58, 113.04], "nice": false, "zero": false}, "axis": null}
   },
   "layer": [
    {"data": {"name": "left"}, "mark": {"type": "circle", "size": 17, "opacity": 1, "color": "#3b4cc0"}},
    {"data": {"name": "apex"}, "mark": {"type": "circle", "size": 6, "opacity": 1, "color": "#b40426"}},
    {"data": {"name": "tri"}, "mark": {"type": "line", "color": "black", "strokeWidth": 1.3}, "encoding": {"order": {"field": "o", "type": "quantitative"}}},
    {"data": {"name": "inner"}, "mark": {"type": "rule", "color": "black", "strokeWidth": 1.2}, "encoding": {"x2": {"field": "x2"}, "y2": {"field": "y2"}}},
    {"data": {"name": "labelsA"}, "mark": {"type": "text", "font": "DejaVu Serif", "fontSize": 11, "color": "#333", "baseline": "middle"}, "encoding": {"text": {"field": "t"}}},
    {"data": {"name": "capA"}, "mark": {"type": "text", "font": "DejaVu Serif", "fontSize": 17.5, "color": "#222", "baseline": "middle"}, "encoding": {"text": {"field": "t"}}}
   ]
  },
  {
   "width": 433, "height": 383,
   "encoding": {
    "x": {"field": "x", "type": "quantitative", "scale": {"domain": [-28.51, 103.79], "nice": false, "zero": false}, "axis": null},
    "y": {"field": "y", "type": "quantitative", "scale": {"domain": [-41.58, 113.04], "nice": false, "zero": false}, "axis": null}
   },
   "layer": [
    {"data": {"name": "right"}, "mark": {"type": "point", "shape": "M-1,-0.6H1V0.6H-1Z", "filled": true, "size": 25, "opacity": 1},
     "encoding": {"color": {"field": "n", "type": "ordinal", "scale": {"domain": [1, 2, 3], "range": ["#3b4cc0", "#86a9fc", "#f4a284"]}, "legend": null}}},
    {"data": {"name": "tri"}, "mark": {"type": "line", "color": "black", "strokeWidth": 1.3}, "encoding": {"order": {"field": "o", "type": "quantitative"}}},
    {"data": {"name": "inner"}, "mark": {"type": "rule", "color": "black", "strokeWidth": 1.2}, "encoding": {"x2": {"field": "x2"}, "y2": {"field": "y2"}}},
    {"data": {"name": "labelsB"}, "mark": {"type": "text", "font": "DejaVu Serif", "fontSize": 11, "color": "#333", "baseline": "middle"}, "encoding": {"text": {"field": "t"}}},
    {"data": {"name": "capB"}, "mark": {"type": "text", "font": "DejaVu Serif", "fontSize": 17.5, "color": "#222", "baseline": "middle"}, "encoding": {"text": {"field": "t"}}}
   ]
  }
 ]
}
